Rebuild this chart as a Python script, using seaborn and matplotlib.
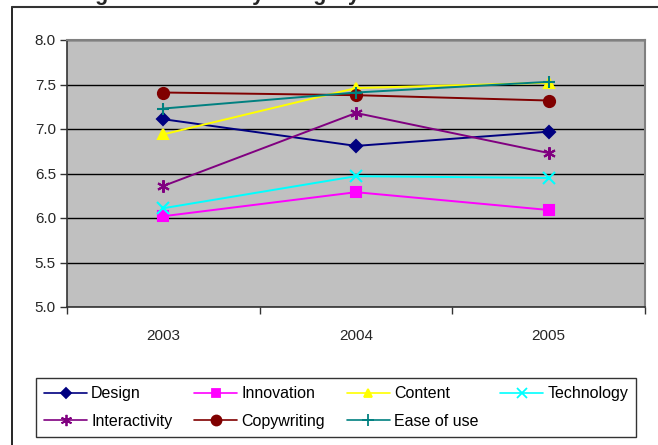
import pandas as pd
import seaborn as sns
import matplotlib.pyplot as plt
from matplotlib.lines import Line2D

years = ["2003", "2004", "2005"]
series_names = ["Design", "Innovation", "Content", "Technology",
                "Interactivity", "Copywriting", "Ease of use"]
design = [7.11, 6.81, 6.97]
innovation = [6.02, 6.29, 6.09]
content = [6.94, 7.46, 7.52]
technology = [6.11, 6.47, 6.45]
interactivity = [6.36, 7.18, 6.73]
copywriting = [7.41, 7.38, 7.32]
ease_of_use = [7.23, 7.41, 7.53]

colors = ["#000080", "#FF00FF", "#FFFF00", "#00FFFF", "#800080", "#800000", "#008080"]
markers = ["D", "s", "^", "x", (6, 2, 0), "o", "+"]
msizes = [6, 7, 7, 8, 9, 8, 9]

values = [design, innovation, content, technology, interactivity, copywriting, ease_of_use]
rows = []
for name, vals in zip(series_names, values):
    for y, v in zip(years, vals):
        rows.append({"year": y, "score": v, "series": name})
df = pd.DataFrame(rows)

sns.set_style("white")
plt.rcParams["font.family"] = ["Liberation Sans", "DejaVu Sans"]

fig = plt.figure(figsize=(6.58, 4.45), dpi=100)
ax = fig.add_axes([67 / 658, 1 - 307 / 445, 578 / 658, 267 / 445])
ax.set_facecolor("#C0C0C0")

handles = {}
for name, col, mk, ms in zip(series_names, colors, markers, msizes):
    sub = df[df["series"] == name]
    sns.lineplot(data=sub, x="year", y="score", color=col, marker=mk,
                 markersize=ms, markeredgecolor=col, markeredgewidth=1.5,
                 linewidth=1.4, ax=ax, legend=False)
    handles[name] = Line2D([], [], color=col, marker=mk, markersize=ms * 0.9,
                           markeredgecolor=col, markeredgewidth=1.3, linewidth=1.2)

ax.set_ylim(5.0, 8.0)
ax.set_yticks([5.0, 5.5, 6.0, 6.5, 7.0, 7.5, 8.0])
ax.set_yticklabels(["%.1f" % t for t in ax.get_yticks()], fontsize=11)
ax.set_xlim(-0.5, 2.5)
ax.set_xticks([-0.5, 0.5, 1.5, 2.5])
ax.set_xticklabels([])
ax.set_xticks([0, 1, 2], minor=True)
ax.set_xticklabels(years, minor=True, fontsize=11)
ax.tick_params(axis="x", which="major", length=5, width=1, color="#333333", direction="out", bottom=True)
ax.tick_params(axis="x", which="minor", length=0, pad=16)
ax.tick_params(axis="y", length=5, width=1, color="#333333", direction="out", left=True, pad=3)
ax.set_xlabel("")
ax.set_ylabel("")
ax.yaxis.grid(True, color="black", linewidth=1)
ax.xaxis.grid(False)
ax.set_axisbelow(True)
for s in ["top", "right"]:
    ax.spines[s].set_color("#808080")
    ax.spines[s].set_linewidth(1.5)
for s in ["left", "bottom"]:
    ax.spines[s].set_color("#333333")
    ax.spines[s].set_linewidth(1.2)

# chart frame (partly outside the image)
fig.add_artist(Line2D([12 / 658, 12 / 658], [0, 1 - 7 / 445], color="black", linewidth=1.2,
                      transform=fig.transFigure))
fig.add_artist(Line2D([12 / 658, 1], [1 - 7 / 445, 1 - 7 / 445], color="#333333", linewidth=1.5,
                      transform=fig.transFigure))

# title, mostly above the visible area as in the reference
fig.text(36 / 658, 1.0, "Average evaluation by category", fontsize=15.5,
         fontweight="bold", ha="left", va="baseline")

order = ["Design", "Interactivity", "Innovation", "Copywriting",
         "Content", "Ease of use", "Technology"]
leg = fig.legend([handles[n] for n in order], order, ncol=4, loc="center",
                 bbox_to_anchor=(36 / 658, 2 / 445, 600 / 658, 71 / 445), mode="expand",
                 fontsize=11.5, frameon=True, fancybox=False, edgecolor="black",
                 handlelength=2.7, handletextpad=0.25, borderaxespad=0,
                 labelspacing=0.8, columnspacing=1.0, borderpad=0.5)
leg.get_frame().set_linewidth(1.0)
for t in leg.get_texts():
    t.set_color("black")

fig.savefig("out.png", dpi=100)
